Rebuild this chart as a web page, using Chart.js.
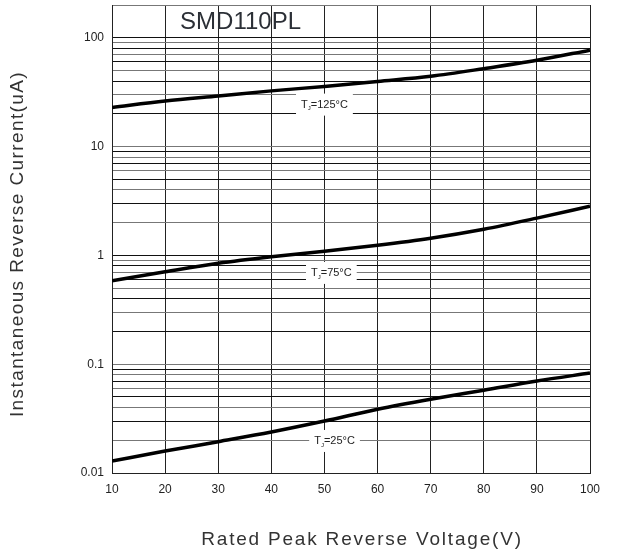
<!DOCTYPE html>
<html>
<head>
<meta charset="utf-8">
<script src="https://cdn.jsdelivr.net/npm/chart.js@4.4.1/dist/chart.umd.min.js"></script>
<style>
  html, body { margin: 0; padding: 0; background: #fff; }
  #wrap { width: 618px; height: 553px; position: relative; }
</style>
</head>
<body>
<div id="wrap"><canvas id="c"></canvas></div>
<script>
// Rated voltage (V) at which the curves were read
const voltages = [10, 20, 30, 40, 50, 60, 70, 80, 90, 100];

// Reverse current (uA) per junction temperature
const current125 = [22.9, 26.2, 29.2, 32.5, 35.7, 39.7, 44.3, 52, 62, 77];
const current75 = [0.585, 0.707, 0.845, 0.97, 1.09, 1.24, 1.44, 1.74, 2.2, 2.83];
const current25 = [0.0129, 0.0159, 0.0194, 0.0238, 0.030, 0.0386, 0.0477, 0.0577, 0.070, 0.083];

// Tick labels
const xTicks = [10, 20, 30, 40, 50, 60, 70, 80, 90, 100];
const yLabelTicks = [0.01, 0.1, 1, 10, 100];

// Curve tags: [temperature text, voltage, current]
const curveTags = [
    ['125', 50, 24.3],
    ['75', 51.3, 0.69],
    ['25', 51.9, 0.0197]
];

const FONT = '"Liberation Sans", Arial, sans-serif';

function toPoints(ys) {
    return voltages.map((v, i) => ({ x: v, y: ys[i] }));
}

// every 1..9 x 10^n step from 0.01 up to 200
function logGridTicks() {
    const out = [];
    for (let e = -2; e <= 2; e++) {
        for (let m = 1; m <= 9; m++) {
            const v = +(m * Math.pow(10, e)).toPrecision(3);
            if (v <= 200) out.push({ value: v });
        }
    }
    return out;
}

const tagPlugin = {
    id: 'tags',
    afterDatasetsDraw(chart) {
        const ctx = chart.ctx;
        const xs = chart.scales.x;
        const ys = chart.scales.y;
        ctx.save();
        curveTags.forEach(([t, v, c]) => {
            const px = xs.getPixelForValue(v);
            const py = ys.getPixelForValue(c);
            ctx.font = '11px ' + FONT;
            const wT = ctx.measureText('T').width;
            ctx.font = '6px ' + FONT;
            const wJ = ctx.measureText('J').width;
            ctx.font = '11px ' + FONT;
            const rest = '=' + t + '°C';
            const wR = ctx.measureText(rest).width;
            const w = wT + wJ + wR;
            ctx.fillStyle = '#fff';
            ctx.fillRect(px - w / 2 - 5, py - 11, w + 10, 22);
            ctx.fillStyle = '#222';
            ctx.textBaseline = 'middle';
            ctx.textAlign = 'left';
            const x0 = px - w / 2;
            ctx.fillText('T', x0, py);
            ctx.font = '6px ' + FONT;
            ctx.fillText('J', x0 + wT, py + 4);
            ctx.font = '11px ' + FONT;
            ctx.fillText(rest, x0 + wT + wJ, py);
        });
        // part number
        ctx.font = '24px ' + FONT;
        ctx.fillStyle = '#2b2f36';
        ctx.textAlign = 'center';
        ctx.textBaseline = 'middle';
        ctx.fillText('SMD110PL', xs.getPixelForValue(34.2), 22);

        // axis titles, spaced out like the original
        ctx.font = '19px ' + FONT;
        ctx.fillStyle = '#333';
        ctx.letterSpacing = '1.8px';
        ctx.fillText('Rated Peak Reverse Voltage(V)', 362, 540);
        ctx.translate(18, 244);
        ctx.rotate(-Math.PI / 2);
        ctx.letterSpacing = '1.4px';
        ctx.fillText('Instantaneous Reverse Current(uA)', 0, 0);
        ctx.restore();
    }
};

new Chart(document.getElementById('c'), {
    type: 'line',
    data: {
        datasets: [
            { data: toPoints(current125) },
            { data: toPoints(current75) },
            { data: toPoints(current25) }
        ].map(d => Object.assign(d, {
            borderColor: '#000',
            borderWidth: 3.5,
            pointRadius: 0,
            cubicInterpolationMode: 'monotone',
            fill: false
        }))
    },
    options: {
        responsive: true,
        maintainAspectRatio: false,
        animation: false,
        layout: { padding: { left: 0, right: 28, top: 5, bottom: 0 } },
        plugins: {
            legend: { display: false },
            tooltip: { enabled: false }
        },
        scales: {
            x: {
                type: 'linear',
                min: 10,
                max: 100,
                afterBuildTicks(s) { s.ticks = xTicks.map(v => ({ value: v })); },
                afterFit(s) { s.height = 80; },
                grid: { color: '#222', lineWidth: 1, drawTicks: false },
                border: { color: '#222', width: 1 },
                ticks: { color: '#222', font: { family: FONT, size: 12 }, padding: 9 }
            },
            y: {
                type: 'logarithmic',
                min: 0.01,
                max: 200,
                afterBuildTicks(s) { s.ticks = logGridTicks(); },
                afterFit(s) {
                    s.width = 112;
                    s.paddingTop = 0;
                    s.paddingBottom = 0;
                },
                grid: {
                    color: ctx => (ctx.index % 2 ? '#777' : '#111'),
                    lineWidth: 1,
                    drawTicks: false
                },
                border: { color: '#222', width: 1 },
                ticks: {
                    color: '#222',
                    font: { family: FONT, size: 12 },
                    padding: 8,
                    autoSkip: false,
                    callback: v => (yLabelTicks.includes(v) ? String(v) : '')
                }
            }
        }
    },
    plugins: [tagPlugin]
});
</script>
</body>
</html>
